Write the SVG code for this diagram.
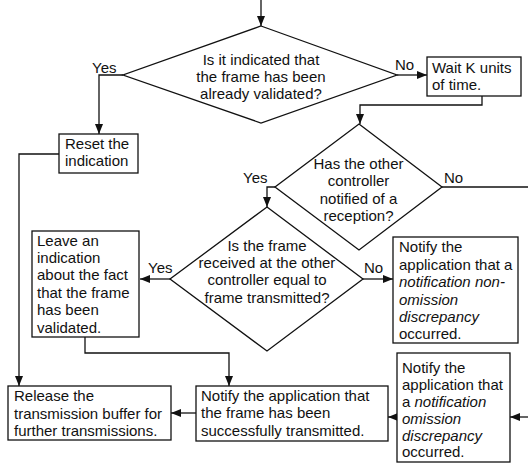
<svg xmlns="http://www.w3.org/2000/svg" width="528" height="464" viewBox="0 0 528 464">
<style>
text{font-family:"Liberation Sans",Arial,sans-serif;font-size:15px;fill:#111}
.c{text-anchor:middle}
.i{font-style:italic}
.shape{fill:#fff;stroke:#111;stroke-width:1.3}
.conn{fill:none;stroke:#111;stroke-width:1.3}
</style>
<defs>
<marker id="ah" markerUnits="userSpaceOnUse" markerWidth="10" markerHeight="10" viewBox="0 0 10 10" refX="10" refY="5" orient="auto">
<path d="M0,1 L10,5 L0,9 Z" fill="#111"/>
</marker>
</defs>
<rect width="528" height="464" fill="#fff"/>
<g id="connectors">
<path class="conn" d="M261,0 V26" marker-end="url(#ah)"/>
<path class="conn" d="M123,75 H99 V134" marker-end="url(#ah)"/>
<path class="conn" d="M397,75 H427" marker-end="url(#ah)"/>
<path class="conn" d="M482,96 V105 H360 V124" marker-end="url(#ah)"/>
<path class="conn" d="M275,187 H267 V207" marker-end="url(#ah)"/>
<path class="conn" d="M442,187 H528"/>
<path class="conn" d="M170,279 H140" marker-end="url(#ah)"/>
<path class="conn" d="M363,279 H393" marker-end="url(#ah)"/>
<path class="conn" d="M59,154 H19 V386" marker-end="url(#ah)"/>
<path class="conn" d="M85,337 V353 H229 V386" marker-end="url(#ah)"/>
<path class="conn" d="M196,413 H171" marker-end="url(#ah)"/>
<path class="conn" d="M397,417 H388" marker-end="url(#ah)"/>
<path class="conn" d="M528,417 H510" marker-end="url(#ah)"/>
<text x="92" y="73">Yes</text>
<text x="395" y="70">No</text>
<text x="243" y="183">Yes</text>
<text x="444" y="183">No</text>
<text x="148" y="273">Yes</text>
<text x="364" y="273">No</text>
</g>
<g id="d1">
<polygon class="shape" points="261,26 397,75 261,123 123,75"/>
<text class="c" x="261" y="65">Is it indicated that</text>
<text class="c" x="261" y="82">the frame has been</text>
<text class="c" x="261" y="99">already validated?</text>
</g>
<g id="wait">
<rect class="shape" x="427" y="57" width="94" height="39"/>
<text x="432" y="73">Wait K units</text>
<text x="432" y="90">of time.</text>
</g>
<g id="reset">
<rect class="shape" x="59" y="134" width="79" height="39"/>
<text x="65" y="149">Reset the</text>
<text x="65" y="166">indication</text>
</g>
<g id="d2">
<polygon class="shape" points="359,124 442,187 359,250 275,187"/>
<text class="c" x="358.5" y="169">Has the other</text>
<text class="c" x="358.5" y="186">controller</text>
<text class="c" x="358.5" y="204">notified of a</text>
<text class="c" x="358.5" y="221">reception?</text>
</g>
<g id="d3">
<polygon class="shape" points="267,207 363,279 267,351 170,279"/>
<text class="c" x="267" y="251">Is the frame</text>
<text class="c" x="267" y="268">received at the other</text>
<text class="c" x="267" y="285">controller equal to</text>
<text class="c" x="267" y="303">frame transmitted?</text>
</g>
<g id="leave">
<rect class="shape" x="32" y="231" width="107" height="106"/>
<text x="37" y="246">Leave an</text>
<text x="37" y="263">indication</text>
<text x="37" y="280">about the fact</text>
<text x="37" y="298">that the frame</text>
<text x="37" y="315">has been</text>
<text x="37" y="333">validated.</text>
</g>
<g id="nonomission">
<rect class="shape" x="393" y="237" width="125" height="106"/>
<text x="399" y="252">Notify the</text>
<text x="399" y="270">application that a</text>
<text x="399" y="287" class="i">notification non-</text>
<text x="399" y="305" class="i">omission</text>
<text x="399" y="322" class="i">discrepancy</text>
<text x="399" y="339">occurred.</text>
</g>
<g id="release">
<rect class="shape" x="8" y="386" width="163" height="54"/>
<text x="14" y="401">Release the</text>
<text x="14" y="419">transmission buffer for</text>
<text x="14" y="436">further transmissions.</text>
</g>
<g id="success">
<rect class="shape" x="196" y="386" width="192" height="55"/>
<text x="201" y="401">Notify the application that</text>
<text x="201" y="418">the frame has been</text>
<text x="201" y="436">successfully transmitted.</text>
</g>
<g id="omission">
<rect class="shape" x="397" y="353" width="113" height="109"/>
<text x="402" y="373">Notify the</text>
<text x="402" y="390">application that</text>
<text x="402" y="407">a <tspan class="i">notification</tspan></text>
<text x="402" y="424" class="i">omission</text>
<text x="402" y="441" class="i">discrepancy</text>
<text x="402" y="457">occurred.</text>
</g>
</svg>
